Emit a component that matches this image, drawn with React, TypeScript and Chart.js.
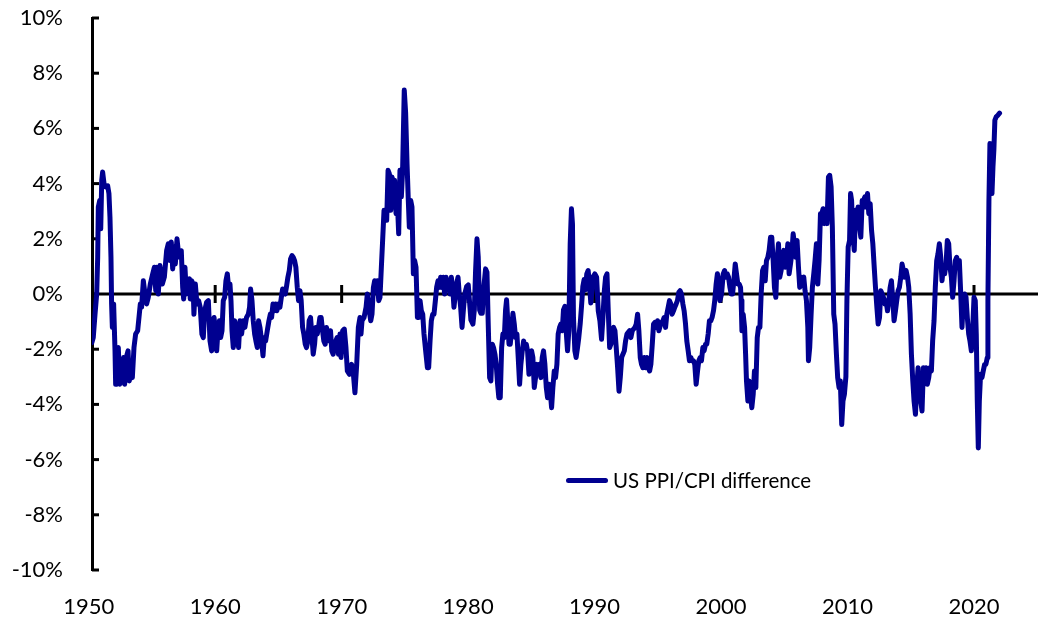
import React, { useEffect, useRef } from "react";
import { Chart, registerables } from "chart.js";

Chart.register(...registerables);

const SERIES_LABEL = "US PPI/CPI difference";
const X_TICKS = [1950, 1960, 1970, 1980, 1990, 2000, 2010, 2020];
const Y_TICKS = [-10, -8, -6, -4, -2, 0, 2, 4, 6, 8, 10];

const YEARS = [
  1950.25, 1950.36, 1950.5, 1950.63, 1950.71, 1950.76, 1950.87, 1950.95, 1951.03, 1951.1,
  1951.21, 1951.34, 1951.5, 1951.6, 1951.68, 1951.76, 1951.81, 1951.87, 1951.97, 1952.08,
  1952.13, 1952.24, 1952.34, 1952.45, 1952.61, 1952.76, 1952.84, 1952.97, 1953.11, 1953.21,
  1953.34, 1953.45, 1953.58, 1953.71, 1953.87, 1954.0, 1954.08, 1954.18, 1954.32, 1954.45,
  1954.58, 1954.71, 1954.87, 1955.06, 1955.19, 1955.3, 1955.37, 1955.5, 1955.63, 1955.82,
  1955.98, 1956.16, 1956.29, 1956.43, 1956.53, 1956.64, 1956.74, 1956.85, 1956.98, 1957.08,
  1957.22, 1957.32, 1957.43, 1957.51, 1957.61, 1957.72, 1957.85, 1957.96, 1958.03, 1958.14,
  1958.25, 1958.32, 1958.43, 1958.56, 1958.69, 1958.82, 1958.95, 1959.06, 1959.17, 1959.32,
  1959.46, 1959.59, 1959.72, 1959.82, 1959.91,
  1960.01, 1960.12, 1960.22, 1960.33, 1960.43, 1960.54, 1960.64, 1960.75, 1960.85, 1960.96,
  1961.06, 1961.17, 1961.25, 1961.33, 1961.43, 1961.54, 1961.64, 1961.75, 1961.85, 1961.96,
  1962.09, 1962.22, 1962.35, 1962.48, 1962.62, 1962.72, 1962.8, 1962.91, 1963.01, 1963.12,
  1963.22, 1963.33, 1963.43, 1963.54, 1963.67, 1963.78, 1963.88, 1963.99, 1964.12, 1964.25,
  1964.36, 1964.46, 1964.57, 1964.67, 1964.78, 1964.88, 1964.99, 1965.12, 1965.23, 1965.33,
  1965.44, 1965.54, 1965.65, 1965.75, 1965.86, 1965.96, 1966.07, 1966.17, 1966.28, 1966.38,
  1966.49, 1966.59, 1966.7, 1966.8, 1966.91, 1967.01, 1967.12, 1967.22, 1967.33, 1967.43,
  1967.54, 1967.64, 1967.75, 1967.86, 1967.96, 1968.07, 1968.17, 1968.28, 1968.38, 1968.49,
  1968.59, 1968.7, 1968.8, 1968.91, 1969.01, 1969.12, 1969.22, 1969.33, 1969.43, 1969.54,
  1969.64, 1969.75, 1969.87, 1969.95,
  1970.08, 1970.21, 1970.34, 1970.45, 1970.61, 1970.79, 1970.93, 1971.05, 1971.19, 1971.32,
  1971.45, 1971.53, 1971.61, 1971.77, 1971.93, 1972.03, 1972.14, 1972.3, 1972.4, 1972.51,
  1972.61, 1972.72, 1972.82, 1972.93, 1973.03, 1973.14, 1973.24, 1973.35, 1973.46, 1973.56,
  1973.67, 1973.77, 1973.88, 1973.98, 1974.09, 1974.19, 1974.3, 1974.4, 1974.51, 1974.61,
  1974.72, 1974.82, 1974.95, 1975.06, 1975.17, 1975.27, 1975.35, 1975.46, 1975.56, 1975.67,
  1975.77, 1975.88, 1975.99, 1976.09, 1976.2, 1976.3, 1976.41, 1976.51, 1976.67, 1976.78,
  1976.88, 1976.99, 1977.09, 1977.2, 1977.3, 1977.41, 1977.51, 1977.62, 1977.72, 1977.83,
  1977.93, 1978.04, 1978.14, 1978.25, 1978.36, 1978.46, 1978.57, 1978.67, 1978.78, 1978.88,
  1978.99, 1979.09, 1979.2, 1979.3, 1979.41, 1979.52, 1979.62, 1979.73,
  1979.88, 1980.01, 1980.12, 1980.22, 1980.38, 1980.49, 1980.59, 1980.7, 1980.8, 1980.91,
  1981.01, 1981.12, 1981.22, 1981.38, 1981.49, 1981.59, 1981.7, 1981.8, 1981.91, 1982.01,
  1982.12, 1982.22, 1982.33, 1982.43, 1982.54, 1982.65, 1982.75, 1982.86, 1982.96, 1983.04,
  1983.12, 1983.23, 1983.33, 1983.44, 1983.54, 1983.65, 1983.75, 1983.86, 1983.96, 1984.07,
  1984.17, 1984.28, 1984.39, 1984.49, 1984.6, 1984.7, 1984.81, 1984.91, 1985.02, 1985.12,
  1985.23, 1985.33, 1985.44, 1985.54, 1985.65, 1985.75, 1985.86, 1985.96, 1986.07, 1986.18,
  1986.28, 1986.39, 1986.49, 1986.6, 1986.7, 1986.81, 1986.91, 1987.02, 1987.12, 1987.23,
  1987.33, 1987.44, 1987.54, 1987.65, 1987.75, 1987.86, 1987.96, 1988.07, 1988.17, 1988.25,
  1988.33, 1988.44, 1988.54, 1988.65, 1988.75, 1988.86, 1988.96, 1989.07, 1989.17, 1989.28,
  1989.38, 1989.49, 1989.59, 1989.7, 1989.8, 1989.91,
  1990.02, 1990.16, 1990.29, 1990.42, 1990.55, 1990.66, 1990.77, 1990.87, 1990.98, 1991.08,
  1991.19, 1991.29, 1991.4, 1991.5, 1991.61, 1991.71, 1991.82, 1991.93, 1992.03, 1992.14,
  1992.24, 1992.35, 1992.45, 1992.56, 1992.66, 1992.77, 1992.87, 1992.98, 1993.08, 1993.19,
  1993.29, 1993.4, 1993.5, 1993.61, 1993.71, 1993.82, 1993.93, 1994.03, 1994.14, 1994.24,
  1994.35, 1994.45, 1994.56, 1994.66, 1994.77, 1994.87, 1994.98, 1995.08, 1995.19, 1995.29,
  1995.4, 1995.5, 1995.61, 1995.71, 1995.82, 1995.92, 1996.03, 1996.13, 1996.24, 1996.34,
  1996.45, 1996.55, 1996.66, 1996.76, 1996.87, 1996.98, 1997.08, 1997.19, 1997.29, 1997.4,
  1997.5, 1997.61, 1997.71, 1997.82, 1997.92, 1998.03, 1998.14, 1998.24, 1998.35, 1998.45,
  1998.56, 1998.66, 1998.77, 1998.87, 1998.98, 1999.08, 1999.19, 1999.29, 1999.4, 1999.5,
  1999.61, 1999.71, 1999.82, 1999.91,
  2000.04, 2000.17, 2000.28, 2000.38, 2000.49, 2000.59, 2000.7, 2000.8, 2000.91, 2001.01,
  2001.12, 2001.22, 2001.33, 2001.43, 2001.54, 2001.59, 2001.65, 2001.75, 2001.86, 2001.94,
  2002.01, 2002.12, 2002.22, 2002.33, 2002.43, 2002.54, 2002.64, 2002.75, 2002.86, 2002.96,
  2003.07, 2003.17, 2003.28, 2003.38, 2003.49, 2003.59, 2003.7, 2003.8, 2003.91, 2004.01,
  2004.12, 2004.22, 2004.33, 2004.43, 2004.54, 2004.64, 2004.75, 2004.86, 2004.96, 2005.07,
  2005.17, 2005.28, 2005.38, 2005.49, 2005.59, 2005.7, 2005.8, 2005.91, 2006.01, 2006.12,
  2006.22, 2006.33, 2006.43, 2006.54, 2006.64, 2006.75, 2006.86, 2006.91, 2007.01, 2007.12,
  2007.22, 2007.33, 2007.43, 2007.54, 2007.65, 2007.75, 2007.86, 2007.96, 2008.07, 2008.17,
  2008.28, 2008.38, 2008.49, 2008.59, 2008.7, 2008.8, 2008.91, 2009.01, 2009.12, 2009.22,
  2009.33, 2009.43, 2009.54, 2009.64, 2009.75, 2009.87, 2009.95,
  2010.05, 2010.16, 2010.24, 2010.32, 2010.42, 2010.53, 2010.63, 2010.74, 2010.84, 2010.95,
  2011.05, 2011.16, 2011.26, 2011.37, 2011.47, 2011.58, 2011.68, 2011.79, 2011.9, 2012.0,
  2012.11, 2012.21, 2012.32, 2012.42, 2012.53, 2012.63, 2012.74, 2012.84, 2012.95, 2013.05,
  2013.16, 2013.26, 2013.37, 2013.47, 2013.58, 2013.68, 2013.79, 2013.89, 2014.0, 2014.1,
  2014.21, 2014.31, 2014.42, 2014.52, 2014.63, 2014.74, 2014.84, 2014.95, 2015.05, 2015.16,
  2015.26, 2015.37, 2015.47, 2015.58, 2015.68, 2015.79, 2015.89, 2016.0, 2016.1, 2016.21,
  2016.31, 2016.42, 2016.52, 2016.63, 2016.73, 2016.84, 2016.94, 2017.05, 2017.15, 2017.26,
  2017.37, 2017.47, 2017.58, 2017.68, 2017.79, 2017.89, 2018.0, 2018.1, 2018.21, 2018.31,
  2018.42, 2018.52, 2018.63, 2018.73, 2018.84, 2018.94, 2019.05, 2019.15, 2019.26, 2019.37,
  2019.47, 2019.58, 2019.68, 2019.79, 2019.89, 2020.0, 2020.1, 2020.18, 2020.26, 2020.34,
  2020.42, 2020.52, 2020.63, 2020.73, 2020.84, 2020.94, 2021.05, 2021.1, 2021.18, 2021.26,
  2021.34, 2021.42, 2021.5, 2021.57, 2021.65, 2021.76, 2021.89, 2022.02,
];

const VALUES = [
  -1.76, -1.58, -0.73, 0.0, 1.33, 3.15, 3.39, 2.36, 4.12, 4.42,
  4.0, 3.88, 3.92, 3.64, 2.79, 1.33, -0.36, -1.21, -0.36, -2.06,
  -3.27, -3.27, -1.94, -3.27, -3.03, -2.3, -3.27, -2.3, -2.06, -3.15,
  -2.79, -3.03, -1.94, -1.45, -1.33, -0.73, -0.36, -0.48, 0.48, 0.0,
  -0.36, -0.12, 0.36, 0.73, 0.97, 0.12, 0.97, 0.0, 1.03, 0.36,
  0.61, 1.57, 1.82, 1.21, 1.88, 0.91, 1.7, 1.09, 2.0, 1.57,
  1.33, 1.57, 0.24, -0.18, 0.97, 0.0, 0.42, 0.55, -0.18, 0.48,
  0.36, -0.73, 0.36, -0.36, -0.24, -0.48, -1.45, -1.58, -0.61, -0.3,
  -0.24, -1.7, -2.06, -0.97, -0.85,
  -1.33, -2.06, -1.33, -0.97, -1.58, -1.33, -0.24, -0.12, 0.48, 0.73,
  0.24, 0.36, -0.24, -1.33, -1.94, -0.97, -1.82, -1.09, -1.94, -0.97,
  -1.45, -0.97, -1.21, -0.85, -0.73, -0.48, 0.18, -0.24, -0.97, -1.45,
  -1.7, -1.94, -0.97, -1.21, -1.7, -2.24, -1.58, -1.7, -1.33, -0.97,
  -0.73, -0.85, -0.36, -0.61, -0.36, -0.61, -0.36, -0.48, -0.12, 0.18,
  0.06, 0.0, 0.3, 0.61, 0.85, 1.27, 1.39, 1.33, 1.21, 0.97,
  0.24, -0.24, 0.12, -0.24, -1.21, -1.45, -1.82, -1.94, -1.7, -0.97,
  -0.85, -1.45, -2.18, -1.82, -1.21, -1.45, -1.21, -0.85, -0.85, -1.33,
  -1.7, -1.82, -1.21, -1.45, -1.7, -1.33, -2.06, -2.18, -1.82, -1.7,
  -1.58, -2.18, -1.45, -2.3,
  -1.33, -1.27, -1.94, -2.79, -2.91, -2.55, -2.91, -3.58, -2.55, -1.21,
  -0.85, -1.45, -0.97, -0.85, -0.48, 0.0, -0.48, -0.97, -0.73, 0.24,
  0.48, 0.24, 0.48, -0.24, -0.12, 0.97, 1.94, 3.03, 3.03, 2.67,
  4.48, 4.36, 3.03, 4.24, 3.15, 4.12, 2.91, 3.39, 2.18, 4.48,
  3.52, 4.48, 7.39, 6.55, 4.73, 3.39, 2.42, 3.39, 3.15, 0.73,
  1.21, 0.97, -0.85, -0.85, -0.24, -0.61, -0.73, -1.45, -2.18, -2.67,
  -2.67, -1.7, -0.97, -0.73, -0.73, -0.24, 0.24, 0.48, 0.24, 0.61,
  0.24, 0.61, 0.0, 0.61, 0.24, 0.48, 0.0, 0.61, 0.24, -0.48,
  0.0, 0.36, 0.61, 0.0, -0.48, -1.21, -0.61, 0.0,
  0.27, 0.33, -0.33, -0.94, -1.09, -0.58, 0.85, 2.0, 1.33, -0.58,
  -0.7, -0.7, 0.15, 0.91, 0.79, -1.09, -3.03, -3.15, -1.82, -1.94,
  -2.18, -2.55, -3.27, -3.76, -3.76, -1.94, -1.45, -1.58, -0.58, -0.21,
  -0.85, -1.82, -1.82, -1.33, -0.7, -1.09, -1.58, -1.45, -2.3, -3.27,
  -2.55, -2.06, -1.7, -1.94, -1.82, -2.06, -2.91, -2.18, -2.06, -2.3,
  -3.39, -3.03, -2.55, -2.79, -2.55, -3.03, -2.3, -2.06, -2.55, -3.39,
  -3.76, -3.27, -3.52, -4.12, -3.39, -2.79, -3.03, -2.55, -1.45, -1.21,
  -1.09, -1.33, -0.58, -0.45, -1.33, -2.06, -1.33, 1.82, 3.09, 2.55,
  -0.85, -2.06, -2.3, -1.94, -1.58, -1.09, -0.48, 0.27, 0.52, 0.15,
  0.73, 0.85, 0.39, -0.33, 0.15, 0.64,
  0.73, 0.61, -0.61, -0.97, -1.64, -0.85, 0.12, 0.61, 0.73, -0.61,
  -1.94, -1.82, -1.33, -1.21, -1.33, -1.94, -2.67, -3.52, -3.03, -2.3,
  -2.18, -2.06, -1.7, -1.45, -1.39, -1.33, -1.58, -1.33, -1.27, -1.21,
  -1.09, -0.73, -1.33, -2.3, -2.55, -2.67, -2.3, -2.67, -2.3, -2.67,
  -2.79, -2.55, -1.82, -1.09, -1.03, -1.21, -0.97, -1.33, -1.15, -1.03,
  -0.97, -0.85, -1.21, -0.73, -0.48, -0.24, -0.36, -0.73, -0.61, -0.48,
  -0.36, -0.24, 0.06, 0.12, 0.0, -0.36, -0.61, -1.09, -1.7, -2.06,
  -2.42, -2.3, -2.42, -2.42, -2.55, -3.27, -2.79, -2.42, -2.3, -2.42,
  -1.94, -2.06, -1.82, -1.82, -1.45, -0.97, -0.97, -0.85, -0.61, -0.24,
  0.36, 0.73, 0.48, -0.24,
  0.0, 0.73, 0.85, 0.61, 0.73, 0.61, 0.24, 0.0, 0.0, 0.48,
  1.09, 0.73, 0.36, 0.36, 0.24, -0.24, -1.33, -0.73, -1.21, -2.18,
  -3.15, -3.88, -3.15, -3.64, -4.12, -3.64, -2.79, -3.39, -1.58, -1.21,
  -1.21, 0.0, 0.85, 0.97, 0.48, 1.21, 1.33, 1.58, 2.06, 2.06,
  1.21, 0.24, -0.12, 1.21, 1.82, 0.61, 0.85, 1.33, 1.58, 0.97,
  1.21, 1.82, 0.73, 1.09, 1.45, 2.18, 1.82, 1.33, 1.94, 0.97,
  0.24, 0.61, 0.48, 0.61, 0.12, -0.24, -1.21, -2.42, -1.94, -0.73,
  0.24, 0.73, 1.21, 1.82, 0.36, 1.21, 2.91, 2.91, 3.09, 2.55,
  3.03, 2.55, 4.24, 4.3, 3.88, 2.42, -0.73, -1.09, -2.18, -3.03,
  -3.39, -3.15, -4.73, -3.88, -3.64, -3.0, -0.24,
  1.7, 1.94, 3.64, 3.39, 2.18, 1.58, 3.03, 2.55, 3.15, 2.42,
  2.06, 3.39, 3.39, 3.52, 3.15, 3.64, 2.91, 3.27, 2.3, 1.82,
  0.97, 0.24, -0.48, -1.09, -0.85, 0.12, 0.0, -0.12, -0.36, -0.24,
  -0.61, -0.24, 0.24, 0.48, -0.24, -0.97, -0.61, -0.24, 0.12, 0.24,
  0.61, 1.09, 0.85, 0.61, 0.85, 0.61, 0.24, -0.73, -2.18, -3.15,
  -3.88, -4.36, -3.39, -2.67, -3.52, -3.88, -4.24, -2.67, -3.03, -2.67,
  -3.27, -3.03, -2.67, -2.79, -1.7, -0.97, 0.24, 1.21, 1.45, 1.82,
  1.33, 0.48, 0.97, 0.73, 1.09, 1.94, 1.82, 0.97, 0.61, -0.12,
  0.48, 1.21, 1.33, 1.09, 1.21, 0.12, -1.21, -0.24, 0.0, -0.12,
  -0.85, -1.45, -1.7, -2.06, -1.33, -0.12, -0.24, -1.45, -3.88, -5.58,
  -3.88, -2.91, -3.03, -2.79, -2.55, -2.55, -2.3, -0.24, 3.39, 5.45,
  5.21, 3.64, 4.61, 5.21, 6.3, 6.42, 6.48, 6.55,
];

const LINE_COLOR = "#000090";
const FONT_FAMILY = "Lato, 'Open Sans', 'DejaVu Sans', sans-serif";

const axisDecor = {
  id: "axisDecor",
  beforeDatasetsDraw(chart: any) {
    const { ctx, chartArea, scales } = chart;
    const xs = scales.x;
    const ys = scales.y;
    const y0 = ys.getPixelForValue(0);
    ctx.save();
    ctx.strokeStyle = "#000";
    ctx.lineWidth = 3;
    ctx.lineCap = "butt";
    ctx.beginPath();
    ctx.moveTo(chartArea.left, y0);
    ctx.lineTo(chartArea.right, y0);
    ctx.stroke();
    X_TICKS.forEach((v) => {
      const px = xs.getPixelForValue(v);
      if (px <= chartArea.left + 2 || px > chartArea.right) return;
      ctx.beginPath();
      ctx.moveTo(px, y0 - 9);
      ctx.lineTo(px, y0 + 9);
      ctx.stroke();
    });
    Y_TICKS.forEach((v) => {
      const py = ys.getPixelForValue(v);
      ctx.beginPath();
      ctx.moveTo(chartArea.left, py);
      ctx.lineTo(chartArea.left + 7, py);
      ctx.stroke();
    });
    ctx.restore();
  },
};

export default function App() {
  const canvasRef = useRef<HTMLCanvasElement | null>(null);

  useEffect(() => {
    if (!canvasRef.current) return;
    const points = YEARS.map((yr, i) => ({ x: yr, y: VALUES[i] }));
    const chart = new Chart(canvasRef.current, {
      type: "line",
      data: {
        datasets: [
          {
            label: SERIES_LABEL,
            data: points,
            borderColor: LINE_COLOR,
            backgroundColor: LINE_COLOR,
            borderWidth: 5,
            pointRadius: 0,
            tension: 0,
            borderJoinStyle: "round",
            borderCapStyle: "round",
          },
        ],
      },
      options: {
        animation: false,
        responsive: true,
        maintainAspectRatio: false,
        layout: { padding: { top: 18, left: 0, right: 0, bottom: 0 } },
        plugins: {
          legend: { display: false },
          tooltip: { enabled: false },
        },
        scales: {
          x: {
            type: "linear",
            min: 1950.26,
            max: 2025.06,
            grid: { display: false },
            border: { display: false },
            ticks: {
              padding: 16,
              color: "#000",
              font: { family: FONT_FAMILY, size: 22 },
              callback: (v: any) => String(v),
            },
            afterBuildTicks: (scale: any) => {
              scale.ticks = X_TICKS.map((v) => ({ value: v }));
            },
            afterFit: (scale: any) => {
              scale.height = 51;
              scale.paddingLeft = 0;
              scale.paddingRight = 0;
            },
          },
          y: {
            type: "linear",
            min: -10,
            max: 10,
            grid: { display: true, drawOnChartArea: false, drawTicks: false },
            border: { display: true, color: "#000", width: 3 },
            ticks: {
              padding: 29,
              color: "#000",
              font: { family: FONT_FAMILY, size: 22 },
              callback: (v: any) => v + "%",
            },
            afterBuildTicks: (scale: any) => {
              scale.ticks = Y_TICKS.map((v) => ({ value: v }));
            },
            afterFit: (scale: any) => {
              scale.width = 92;
              scale.paddingTop = 0;
              scale.paddingBottom = 0;
            },
          },
        },
      },
      plugins: [axisDecor],
    });
    return () => chart.destroy();
  }, []);

  return (
    <div
      style={{
        position: "fixed",
        left: 0,
        top: 0,
        width: 1038,
        height: 621,
        background: "#fff",
      }}
    >
      <canvas ref={canvasRef} />
      <div
        style={{
          position: "absolute",
          left: 566,
          top: 467,
          display: "flex",
          alignItems: "center",
          fontFamily: FONT_FAMILY,
          fontSize: 20.5,
          lineHeight: "26px",
          color: "#000",
          whiteSpace: "nowrap",
        }}
      >
        <span
          style={{
            display: "inline-block",
            width: 42,
            height: 5,
            borderRadius: 3,
            background: LINE_COLOR,
            marginRight: 5,
          }}
        />
        <span>{SERIES_LABEL}</span>
      </div>
    </div>
  );
}
